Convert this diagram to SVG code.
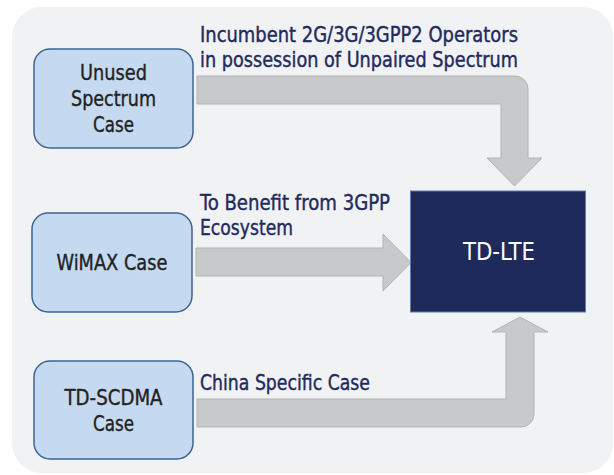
<svg xmlns="http://www.w3.org/2000/svg" width="614" height="475" viewBox="0 0 614 475">
  <style>
    .node rect { fill: #c5daf0; stroke: #3d6491; stroke-width: 1.5; }
    .ntext { font-family: "DejaVu Sans Condensed", "Liberation Sans", sans-serif; font-size: 21px; fill: #222222; stroke: #222222; stroke-width: 0.35; text-anchor: middle; }
    .label { font-family: "DejaVu Sans Condensed", "Liberation Sans", sans-serif; font-size: 21.5px; fill: #1f2b5e; stroke: #1f2b5e; stroke-width: 0.4; }
    .arrow { fill: #c8c9cb; stroke: #b2b3b5; stroke-width: 1; stroke-linejoin: miter; }
    .core { fill: #1e2a5c; stroke: #5a7fae; stroke-width: 1; }
    .ctext { font-family: "DejaVu Sans Condensed", "Liberation Sans", sans-serif; font-size: 25px; fill: #ffffff; text-anchor: middle; }
  </style>
  <rect x="12" y="7" width="601" height="466" rx="30" ry="30" fill="#f1f2f4"/>

  <g id="connectors">
    <path class="arrow" d="M197,76 H515 A13,13 0 0 1 528,89 V158 H542 L514.5,186 L487,158 H501 V104 H197 Z"/>
    <path class="arrow" d="M196,248 H383 V234 L411,262.5 L383,291 V276 H196 Z"/>
    <path class="arrow" d="M197,399 H506 V332 H492 L520,317 L548,332 H534 V414 A13,13 0 0 1 521,427 H197 Z"/>
    <text class="label" x="200" y="42" textLength="318" lengthAdjust="spacingAndGlyphs">Incumbent 2G/3G/3GPP2 Operators</text>
    <text class="label" x="200" y="67" textLength="318" lengthAdjust="spacingAndGlyphs">in possession of Unpaired Spectrum</text>
    <text class="label" x="200" y="210" textLength="190" lengthAdjust="spacingAndGlyphs">To Benefit from 3GPP</text>
    <text class="label" x="200" y="235" textLength="93" lengthAdjust="spacingAndGlyphs">Ecosystem</text>
    <text class="label" x="200" y="390" textLength="170" lengthAdjust="spacingAndGlyphs">China Specific Case</text>
  </g>

  <g id="unused" class="node">
    <rect x="34" y="49" width="159" height="99" rx="16" ry="16"/>
    <text class="ntext" x="113.5" y="80" textLength="67" lengthAdjust="spacingAndGlyphs">Unused</text>
    <text class="ntext" x="113.5" y="106" textLength="85" lengthAdjust="spacingAndGlyphs">Spectrum</text>
    <text class="ntext" x="113.5" y="132" textLength="41" lengthAdjust="spacingAndGlyphs">Case</text>
  </g>

  <g id="wimax" class="node">
    <rect x="32" y="213" width="160" height="99" rx="16" ry="16"/>
    <text class="ntext" x="112" y="270" textLength="111" lengthAdjust="spacingAndGlyphs">WiMAX Case</text>
  </g>

  <g id="tdscdma" class="node">
    <rect x="34" y="361" width="159" height="98" rx="16" ry="16"/>
    <text class="ntext" x="113.5" y="405" textLength="98" lengthAdjust="spacingAndGlyphs">TD-SCDMA</text>
    <text class="ntext" x="113.5" y="431" textLength="41" lengthAdjust="spacingAndGlyphs">Case</text>
  </g>

  <g id="tdlte">
    <rect class="core" x="410.5" y="191" width="175" height="121"/>
    <text class="ctext" x="499" y="260" textLength="72" lengthAdjust="spacingAndGlyphs">TD-LTE</text>
  </g>
</svg>
